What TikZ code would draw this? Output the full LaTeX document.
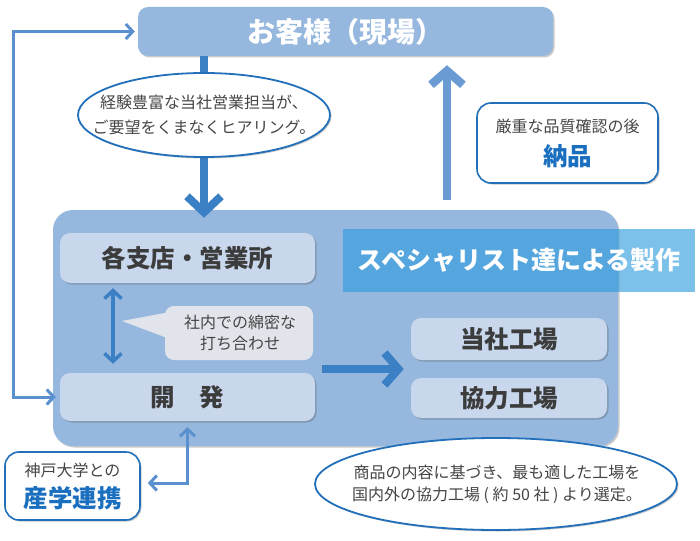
\documentclass[tikz,border=0pt]{standalone}
\usepackage{fontspec}
\setmainfont{Noto Sans CJK JP}
\usetikzlibrary{arrows.meta,shapes.geometric,shadows,calc}
\definecolor{boxblue}{HTML}{96B8DE}
\definecolor{innerbox}{HTML}{C8D7EC}
\definecolor{callgray}{HTML}{E1E5EB}
\definecolor{bandblue}{HTML}{309DDE}
\definecolor{arrowblue}{HTML}{3B80C4}
\definecolor{lineblue}{HTML}{5A90CE}
\definecolor{upblue}{HTML}{6A9BD2}
\definecolor{borderblue}{HTML}{2270BA}
\definecolor{textgray}{HTML}{454545}
\definecolor{boxtext}{HTML}{3C3C3C}
\definecolor{accentblue}{HTML}{1B6FBF}
\newcommand{\fsz}[2]{\fontsize{#1}{#2}\selectfont}
\begin{document}
\begin{tikzpicture}[x=1pt,y=-1pt,
  softshadow/.style={drop shadow={shadow xshift=1.5pt,shadow yshift=-1.5pt,opacity=0.3,fill=black!70}},
  topbox/.style={fill=boxblue,rounded corners=10pt,minimum width=415pt,minimum height=49pt,inner sep=0pt,
    text=white,font=\fsz{28}{32}\bfseries,softshadow},
  container/.style={fill=boxblue,rounded corners=20pt,minimum width=565pt,minimum height=236pt,inner sep=0pt,softshadow},
  innerbox/.style={fill=innerbox,rounded corners=10pt,inner sep=0pt,text=boxtext,font=\fsz{24.5}{28}\bfseries,softshadow},
  whitebox/.style={fill=white,draw=borderblue,line width=1.6pt,rounded corners=14pt,inner sep=0pt,softshadow},
  bubble/.style={ellipse,fill=white,draw=borderblue,line width=1.8pt,inner sep=0pt,softshadow},
  bodytext/.style={text=textgray,font=\fsz{16}{22},align=center,inner sep=0pt},
  accenttext/.style={text=accentblue,font=\fsz{24.5}{28}\bfseries,inner sep=0pt},
  thinarrow/.style={draw=lineblue,line width=3pt,{Straight Barb[length=7pt,width=15pt]}-{Straight Barb[length=7pt,width=15pt]}},
]
\useasboundingbox (0,0) rectangle (700,540);

% customer box
\node[topbox] (top) at (345.5,31.5) {お客様（現場）};

% main container
\node[container] (cont) at (335.5,328) {};

% thick down arrow and hearing bubble
\coordinate (dn) at (204,115);
\draw[draw=arrowblue,line width=8pt,-{Straight Barb[length=16pt,width=34pt]},shorten >=-8pt]
  (dn |- top.south) -- (dn |- cont.north);
\node[bubble,minimum width=252pt,minimum height=84pt] (hear) at (dn) {};
\node[bodytext,font=\fsz{16}{24.5}] (heartext) at (hear.center) {経験豊富な当社営業担当が、\\ご要望をくまなくヒアリング。};

% up arrow (delivery)
\coordinate (up) at (447,200);
\draw[draw=upblue,line width=8.5pt,-{Straight Barb[length=14pt,width=32pt]},shorten >=9pt]
  (up) -- (up |- top.south);

% delivery box
\node[whitebox,minimum width=181pt,minimum height=80pt] (deliv) at (567.5,143) {};
\node[bodytext] (deliv1) at (567.5,126) {厳重な品質確認の後};
\node[accenttext] (deliv2) at (567.5,156) {納品};

% inner boxes
\node[innerbox,minimum width=255pt,minimum height=50pt] (shiten) at (187.5,258) {各支店・営業所};
\node[innerbox,minimum width=255pt,minimum height=48pt] (kaihatsu) at (187.5,397) {開　発};
\node[innerbox,minimum width=196pt,minimum height=42pt] (tosha) at (509,339) {当社工場};
\node[innerbox,minimum width=196pt,minimum height=40pt] (kyoryoku) at (509,398) {協力工場};

% specialist band
\node[fill=bandblue,fill opacity=0.63,text opacity=1,text=white,minimum width=352pt,minimum height=63pt,
  inner sep=0pt,font=\fsz{25}{28}\bfseries] (band) at (519,260.5) {スペシャリスト達による製作};

% double arrow between branch and development
\coordinate (da) at (113,330);
\draw[draw=arrowblue,line width=3.5pt,{Straight Barb[length=8pt,width=17pt]}-{Straight Barb[length=8pt,width=17pt]},
  shorten <=5pt,shorten >=9pt] (da |- shiten.south) -- (da |- kaihatsu.north);

% callout
\fill[callgray] (122,321) -- (170,312) -- (170,339) -- cycle;
\node[fill=callgray,rounded corners=9pt,minimum width=148pt,minimum height=54pt,inner sep=0pt] (talk) at (239,333) {};
\node[bodytext,font=\fsz{16}{21}] (talktext) at (240,332.5) {社内での綿密な\\打ち合わせ};

% arrow to factories
\coordinate (ra) at (322,369);
\draw[draw=arrowblue,line width=8pt,-{Straight Barb[length=14pt,width=32pt]},shorten >=7pt]
  (ra) -- (ra -| tosha.west);

% feedback line on the left
\coordinate (lc) at (13,200);
\draw[thinarrow,shorten <=3pt,shorten >=4pt,rounded corners=0pt]
  (top.west) -| (lc |- kaihatsu.west) -- (kaihatsu.west);

% university box
\node[whitebox,minimum width=135pt,minimum height=68pt] (univ) at (72.5,486) {};
\node[bodytext] (univ1) at (72.5,470) {神戸大学との};
\node[accenttext] (univ2) at (72.5,498) {産学連携};
\draw[thinarrow,shorten <=6pt,shorten >=7pt] (kaihatsu.south) |- ($(univ.east)+(0,-3)$);

% selection bubble
\node[bubble,minimum width=362pt,minimum height=92pt] (select) at (496,484) {};
\node[bodytext] (selecttext) at (497,484) {商品の内容に基づき、最も適した工場を\\国内外の協力工場 ( 約 50 社 ) より選定。};

\end{tikzpicture}
\end{document}
